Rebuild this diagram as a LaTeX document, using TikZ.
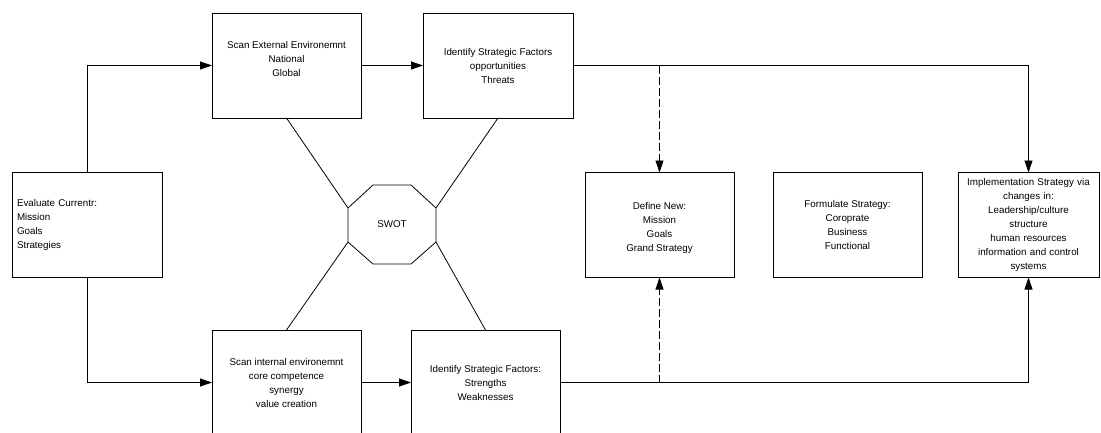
\documentclass[tikz,border=0pt]{standalone}
\usepackage{fontspec}
\setmainfont{Liberation Sans}
\usetikzlibrary{arrows.meta}
\begin{document}
\begin{tikzpicture}[x=1pt,y=-1pt,
	box/.style={draw, line width=0.8pt, minimum width=150pt, minimum height=105pt,
		inner sep=2pt, outer sep=0pt, align=center, font=\fontsize{9.8}{14}\selectfont},
	link/.style={line width=0.8pt},
	arr/.style={link, -{Triangle[length=12pt,width=8pt]}}]
	\useasboundingbox (0,0) rectangle (1101,432);
	%\draw[gray, dashed] (0,0) grid[step=50] (1101,432);

	\node[box, align=left, text width=140pt] (eval) at (87,224.5) {Evaluate Currentr:\\Mission\\Goals\\Strategies};
	\node[box, minimum width=149pt] (ext) at (286.5,65.5) {Scan External Environemnt\\National\\Global\\\mbox{}};
	\node[box] (opp) at (498,65.5) {Identify Strategic Factors\\opportunities\\Threats};
	\node[box, minimum width=149pt] (int) at (286.5,382.5) {Scan internal environemnt\\core competence\\synergy\\value creation};
	\node[box, minimum width=149pt] (sw) at (485.5,382.5) {Identify Strategic Factors:\\Strengths\\Weaknesses};
	\node[box, minimum width=149pt] (def) at (659.5,225) {\mbox{}\\Define New:\\Mission\\Goals\\Grand Strategy};
	\node[box, minimum width=149pt] (form) at (847.5,225) {Formulate Strategy:\\Coroprate\\Business\\Functional};
	\node[box, minimum width=141pt, text width=137pt] (impl) at (1028.5,225) {Implementation Strategy via\\changes in:\\Leadership/culture\\structure\\human resources\\information and control\\systems};

	% SWOT octagon
	\draw[link] (373,185) -- (411,185) -- (436,208) coordinate (oNE) -- (436,242) coordinate (oSE)
		-- (411,264) -- (373,264) -- (348,242) coordinate (oSW) -- (348,208) coordinate (oNW) -- cycle;
	\node[font=\fontsize{9.8}{14}\selectfont] (swot) at (392,224.5) {SWOT};

	\draw[link] (ext.south) -- (oNW);
	\draw[link] (opp.south) -- (oNE);
	\draw[link] (int.north) -- (oSW);
	\draw[link] (sw.north) -- (oSE);

	\draw[arr] (eval.north) |- (ext.west);
	\draw[arr] (eval.south) |- (int.west);
	\draw[arr] (ext.east) -- (opp.west);
	\draw[arr] (int.east) -- (sw.west);

	\draw[arr] (opp.east) -| (impl.north);
	\draw[arr] (sw.east) -| (impl.south);
	\draw[arr, dash pattern=on 8pt off 3pt] (opp.east -| def.north) -- (def.north);
	\draw[arr, dash pattern=on 8pt off 3pt] (sw.east -| def.south) -- (def.south);
\end{tikzpicture}
\end{document}
